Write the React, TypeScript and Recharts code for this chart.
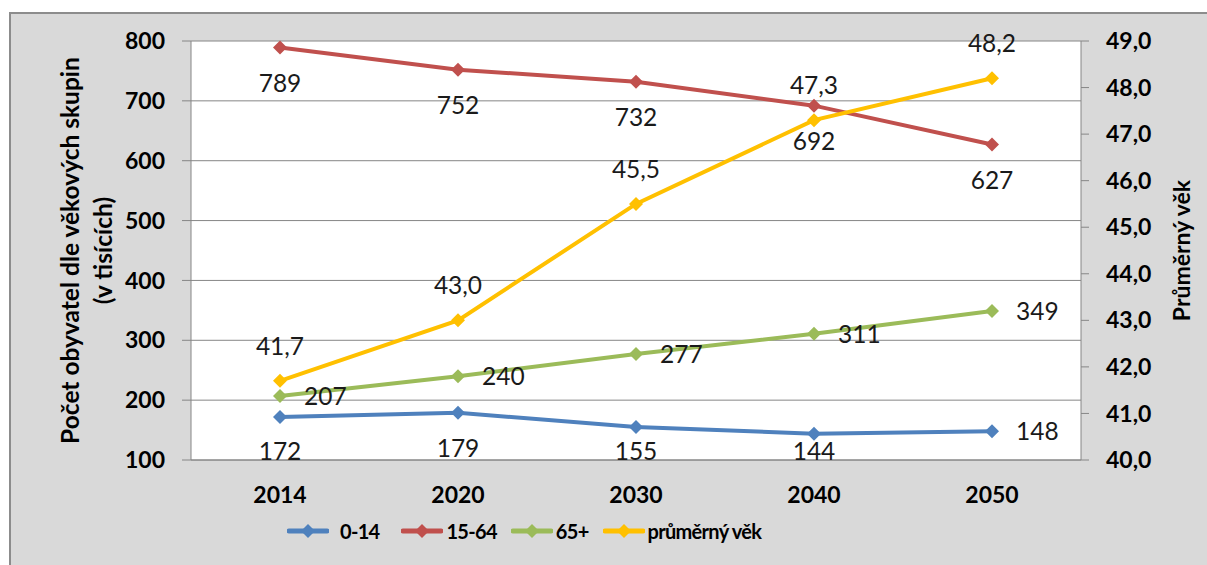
import React from "react";
import {
  LineChart,
  Line,
  XAxis,
  YAxis,
  CartesianGrid,
  Legend,
  LabelList,
} from "recharts";

const years = ["2014", "2020", "2030", "2040", "2050"];
const age0to14 = [172, 179, 155, 144, 148];
const age15to64 = [789, 752, 732, 692, 627];
const age65plus = [207, 240, 277, 311, 349];
const avgAge = [41.7, 43.0, 45.5, 47.3, 48.2];

const leftTicks = [100, 200, 300, 400, 500, 600, 700, 800];
const rightTicks = [40, 41, 42, 43, 44, 45, 46, 47, 48, 49];
const boundaryTicks = [0, 1, 2, 3, 4, 5];

const FONT = "Lato, 'Open Sans', sans-serif";
const AXIS_GRAY = "#868686";
const PLOT_BOTTOM = 460;

// where each series puts its value labels (one entry per year)
const SERIES = [
  { key: "a", name: "0-14", color: "#4f81bd", axis: "left", pos: ["b", "b", "b", "b", "r"] },
  { key: "b", name: "15-64", color: "#c0504d", axis: "left", pos: ["b", "b", "b", "b", "b"] },
  { key: "c", name: "65+", color: "#9bbb59", axis: "left", pos: ["r", "r", "r", "r", "r"] },
  { key: "d", name: "průměrný věk", color: "#ffc000", axis: "right", pos: ["t", "t", "t", "t", "t"] },
];

const data = years.map((year, i) => ({
  year,
  a: age0to14[i],
  b: age15to64[i],
  c: age65plus[i],
  d: avgAge[i],
}));

const comma1 = (v: number) => v.toFixed(1).replace(".", ",");

const diamond = (color: string) => (props: any) => {
  const { cx, cy, index } = props;
  if (cx == null || cy == null) return <g key={`n-${index}`} />;
  const r = 7;
  return (
    <path
      key={`dot-${color}-${index}`}
      d={`M${cx},${cy - r}L${cx + r},${cy}L${cx},${cy + r}L${cx - r},${cy}Z`}
      fill={color}
    />
  );
};

const LABEL_SIZE = 24.5;
const CAP = LABEL_SIZE * 0.72;

// labels stay inside the plot area, like excel does
const makeLabel = (pos: string[], isAge: boolean) => (props: any) => {
  const { x, y, value, index } = props;
  const p = pos[index] || "b";
  const text = isAge ? comma1(Number(value)) : String(value);
  let tx = x;
  let ty = y;
  let anchor: "middle" | "start" = "middle";
  if (p === "b") {
    ty = Math.min(y + 27 + CAP, PLOT_BOTTOM);
  } else if (p === "t") {
    ty = y - 26;
  } else {
    tx = x + 24;
    ty = y + CAP / 2;
    anchor = "start";
  }
  return (
    <text
      key={`lbl-${index}`}
      x={tx}
      y={ty}
      textAnchor={anchor}
      fontFamily={FONT}
      fontSize={LABEL_SIZE}
      fill="#1a1a1a"
    >
      {text}
    </text>
  );
};

const LegendContent = () => (
  <div style={{ display: "flex", alignItems: "center", fontFamily: FONT }}>
    {SERIES.map((s) => (
      <div
        key={s.key}
        style={{ display: "flex", alignItems: "center", marginRight: s.key === "a" ? 22 : 14 }}
      >
        <svg width={42} height={16}>
          <line x1={2} y1={8} x2={40} y2={8} stroke={s.color} strokeWidth={5} strokeLinecap="round" />
          <path d="M21,1L28,8L21,15L14,8Z" fill={s.color} />
        </svg>
        <span
          style={{
            marginLeft: s.key === "a" ? 11 : 3,
            fontWeight: 700,
            fontSize: 20,
            letterSpacing: -0.7,
            color: "#000",
          }}
        >
          {s.name}
        </span>
      </div>
    ))}
  </div>
);

const titleProps = {
  textAnchor: "middle" as const,
  dominantBaseline: "central" as const,
  fontFamily: FONT,
  fontWeight: 700,
  fill: "#000",
};

const LeftTitle = (props: any) => {
  const { viewBox } = props;
  const cy = viewBox.y + viewBox.height / 2;
  return (
    <g>
      <text x={69} y={cy} transform={`rotate(-90, 69, ${cy})`} fontSize={24.5} {...titleProps}>
        Počet obyvatel dle věkových skupin
      </text>
      <text x={102} y={cy} transform={`rotate(-90, 102, ${cy})`} fontSize={24.5} {...titleProps}>
        (v tisících)
      </text>
    </g>
  );
};

const RightTitle = (props: any) => {
  const { viewBox } = props;
  const cy = viewBox.y + viewBox.height / 2;
  return (
    <text x={1181} y={cy} transform={`rotate(-90, 1181, ${cy})`} fontSize={23} {...titleProps}>
      Průměrný věk
    </text>
  );
};

const tickStyle = { fontFamily: FONT, fontWeight: 700, fontSize: 23, fill: "#000" };

export default function App() {
  return (
    <div style={{ position: "absolute", left: 0, top: 0, width: 1207, height: 565, background: "#fff" }}>
      <div
        style={{
          position: "absolute",
          left: 9,
          top: 12,
          width: 1198,
          height: 553,
          boxSizing: "border-box",
          background: "#d9d9d9",
          borderLeft: "2px solid #8c8c8c",
          borderTop: "2px solid #8c8c8c",
        }}
      />
      <div style={{ position: "absolute", left: 0, top: 0 }}>
        <LineChart
          width={1207}
          height={565}
          data={data}
          margin={{ top: 41, right: 56, bottom: 55, left: 91 }}
        >
          <XAxis
            xAxisId="bounds"
            type="number"
            domain={[0, 5]}
            allowDataOverflow
            ticks={boundaryTicks}
            height={0}
            tick={false}
            axisLine={false}
            tickLine={{ stroke: AXIS_GRAY }}
            tickSize={8}
          />
          <XAxis
            xAxisId="cat"
            dataKey="year"
            padding={{ left: 89, right: 89 }}
            height={50}
            tickLine={false}
            tickSize={0}
            tickMargin={27}
            axisLine={{ stroke: AXIS_GRAY }}
            tick={tickStyle}
          />
          <YAxis
            yAxisId="left"
            domain={[100, 800]}
            ticks={leftTicks}
            width={100}
            tickSize={9}
            tickMargin={17}
            axisLine={{ stroke: AXIS_GRAY }}
            tickLine={{ stroke: AXIS_GRAY }}
            tick={tickStyle}
            label={<LeftTitle />}
          />
          <YAxis
            yAxisId="right"
            orientation="right"
            domain={[40, 49]}
            ticks={rightTicks}
            width={70}
            tickSize={8}
            tickMargin={17}
            tickFormatter={comma1}
            axisLine={{ stroke: AXIS_GRAY }}
            tickLine={{ stroke: AXIS_GRAY }}
            tick={tickStyle}
            label={<RightTitle />}
          />
          <CartesianGrid
            xAxisId="cat"
            yAxisId="left"
            vertical={false}
            stroke={AXIS_GRAY}
            fill="#fff"
            fillOpacity={1}
          />
          {SERIES.map((s) => (
            <Line
              key={s.key}
              xAxisId="cat"
              yAxisId={s.axis}
              dataKey={s.key}
              name={s.name}
              stroke={s.color}
              strokeWidth={4}
              dot={diamond(s.color)}
              activeDot={false}
              isAnimationActive={false}
            >
              <LabelList dataKey={s.key} content={makeLabel(s.pos, s.axis === "right")} />
            </Line>
          ))}
          <Legend
            verticalAlign="middle"
            align="center"
            layout="horizontal"
            content={<LegendContent />}
            wrapperStyle={{ top: 519, left: 287, width: "auto" }}
          />
        </LineChart>
      </div>
    </div>
  );
}
